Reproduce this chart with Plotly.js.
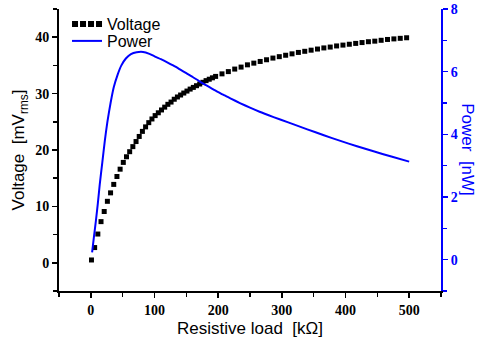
<!DOCTYPE html>
<html>
<head>
<meta charset="utf-8">
<script src="https://cdn.plot.ly/plotly-3.0.1.min.js"></script>
<style>html,body{margin:0;padding:0;background:#fff;}#chart{width:480px;height:341px;}</style>
</head>
<body>
<div id="chart"></div>
<script>
// Voltage data (kOhm, mV rms)
var voltageR = [1,6,11,16,21,26,31,36,41,46,51,56,61,66,71,76,81,86,91,96,101,106,111,116,121,126,131,136,141,146,151,156,161,166,171,176,181,186,191,196,
  206,216,226,236,246,256,266,276,286,296,306,316,326,336,346,356,366,376,386,396,406,416,426,436,446,456,466,476,486,496];
var voltageV = [0.5,2.7,5.1,7.3,9.1,10.9,12.4,13.9,15.3,16.6,17.8,18.8,19.7,20.6,21.5,22.4,23.3,24.1,24.85,25.5,26.1,26.6,27.1,27.6,28.1,28.5,29.0,29.4,29.75,30.1,30.45,30.8,31.1,31.4,31.7,32.0,32.3,32.55,32.8,33.05,
  33.5,33.9,34.35,34.7,35.1,35.4,35.7,36.0,36.3,36.55,36.8,37.05,37.3,37.5,37.7,37.9,38.1,38.25,38.45,38.6,38.75,38.9,39.05,39.2,39.3,39.45,39.6,39.7,39.8,39.9];
// Power data (kOhm, nW)
var powerR = [2,5,8,11,14,18,22,26,31,36,42,48,55,63,72,82,92,100,110,120,130,140,150,160,170,180,190,200,210,220,235,250,265,287,310,340,366,392,418,444,472,500];
var powerP = [0.23,0.75,1.25,1.8,2.4,3.1,3.8,4.4,5.0,5.5,5.9,6.2,6.42,6.56,6.62,6.63,6.57,6.49,6.40,6.30,6.19,6.07,5.95,5.83,5.70,5.58,5.46,5.35,5.24,5.14,4.99,4.85,4.72,4.55,4.38,4.16,3.97,3.79,3.62,3.46,3.29,3.13];
var seriesNames = ["Voltage", "Power"];

var tickFont = {family: "Liberation Serif", size: 14, color: "#000", weight: 700};
var tickFontBlue = {family: "Liberation Serif", size: 14, color: "#0000ff", weight: 700};
var titleFont = {family: "Liberation Sans, Arial, sans-serif", size: 17, color: "#000"};
var legendFont = {family: "Liberation Sans, Arial, sans-serif", size: 16, color: "#000"};

var traces = [
  {x: voltageR, y: voltageV, type: "scatter", mode: "markers", name: seriesNames[0], showlegend: false,
   marker: {symbol: "square", size: 5, color: "#000"}, xaxis: "x", yaxis: "y"},
  {x: [null], y: [null], type: "scatter", mode: "lines", name: seriesNames[0], legend: "legend",
   line: {color: "#000", width: 6, dash: "6px,2px"}, xaxis: "x", yaxis: "y"},
  {x: powerR, y: powerP, type: "scatter", mode: "lines", name: seriesNames[1], legend: "legend2",
   line: {color: "#0000ff", width: 2, shape: "spline", smoothing: 0.5}, xaxis: "x", yaxis: "y2"}
];

var layout = {
  width: 480, height: 341,
  margin: {l: 59, r: 39, t: 8, b: 50},
  paper_bgcolor: "#fff", plot_bgcolor: "#fff",
  showlegend: true,
  legend: {x: 0.021, y: 0.9435, xanchor: "left", yanchor: "middle", bgcolor: "rgba(0,0,0,0)",
           font: legendFont, itemwidth: 30, borderwidth: 0},
  legend2: {x: 0.021, y: 0.8834, xanchor: "left", yanchor: "middle", bgcolor: "rgba(0,0,0,0)",
           font: legendFont, itemwidth: 30, borderwidth: 0},
  xaxis: {range: [-50, 550], dtick: 100, tick0: 0, ticks: "outside", ticklen: 5, tickwidth: 1.5,
          tickcolor: "#000", showline: true, linecolor: "#000", linewidth: 2, mirror: false,
          showgrid: false, zeroline: false, tickfont: tickFont,
          minor: {dtick: 50, tick0: 0, ticks: "outside", ticklen: 4, tickwidth: 1.5, tickcolor: "#000", showgrid: false},
          title: {text: "Resistive load  [kΩ]", font: titleFont, standoff: 5}},
  xaxis2: {range: [-50, 550], overlaying: "x", side: "top", anchor: "y", dtick: 50, tick0: 0,
           ticks: "inside", ticklen: 5, tickwidth: 1.5, tickcolor: "#000", showticklabels: false,
           showline: true, linecolor: "#000", linewidth: 2, showgrid: false, zeroline: false},
  yaxis: {range: [-5, 45], dtick: 10, tick0: 0, ticks: "outside", ticklen: 5, tickwidth: 1.5,
          tickcolor: "#000", showline: true, linecolor: "#000", linewidth: 2,
          showgrid: false, zeroline: false, tickfont: tickFont,
          minor: {dtick: 5, tick0: 0, ticks: "outside", ticklen: 4, tickwidth: 1.5, tickcolor: "#000", showgrid: false},
          title: {text: "Voltage  [mV<sub>rms</sub>]", font: titleFont, standoff: 6}},
  yaxis2: {range: [-1, 8], dtick: 2, tick0: 0, overlaying: "y", side: "right", anchor: "x",
           ticks: "outside", ticklen: 5, tickwidth: 1.5, tickcolor: "#0000ff",
           showline: true, linecolor: "#0000ff", linewidth: 2,
           showgrid: false, zeroline: false, tickfont: tickFontBlue,
           minor: {dtick: 1, tick0: 0, ticks: "outside", ticklen: 4, tickwidth: 1.5, tickcolor: "#0000ff", showgrid: false}},
  annotations: [
    {text: "Power  [nW]", xref: "paper", yref: "paper", x: 1.07, y: 0.5, xanchor: "center", yanchor: "middle",
     textangle: 90, showarrow: false, font: {family: "Liberation Sans, Arial, sans-serif", size: 17, color: "#0000ff"}}
  ]
};

Plotly.newPlot("chart", traces, layout, {displayModeBar: false, staticPlot: true});
</script>
</body>
</html>
